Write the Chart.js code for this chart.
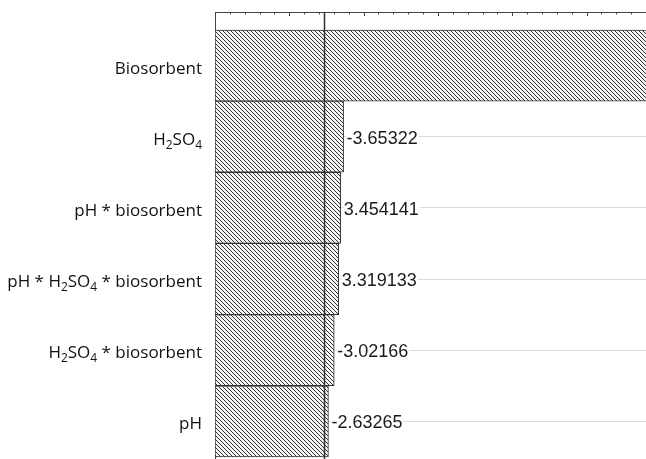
<!DOCTYPE html>
<html>
<head>
<meta charset="utf-8">
<script src="https://cdn.jsdelivr.net/npm/chart.js@4"></script>
<style>
  html, body { margin: 0; padding: 0; background: #fff; overflow: hidden; }
  canvas { display: block; }
</style>
</head>
<body>
<canvas id="paretoChart" width="646" height="459"></canvas>
<script>
// factors, in the order shown (top to bottom); _n marks a subscript
const factors = ['Biosorbent', 'H_2SO_4', 'pH * biosorbent', 'pH * H_2SO_4 * biosorbent', 'H_2SO_4 * biosorbent', 'pH'];
// standardized effects (Biosorbent runs off the picture, value estimated)
const effects = [26.5, -3.65322, 3.454141, 3.319133, -3.02166, -2.63265];
const criticalValue = 2.365;
const axisMin = -5;
const axisMax = 24;
const tickStep = 1;
const majorStep = 5;

const labelFont = '17px "Open Sans", "Liberation Sans", sans-serif';
const subFont = '12px "Open Sans", "Liberation Sans", sans-serif';

// diagonal hatch pattern
function hatch() {
    const s = 4;
    const c = document.createElement('canvas');
    c.width = s; c.height = s;
    const g = c.getContext('2d');
    g.fillStyle = '#f4f4f4';
    g.fillRect(0, 0, s, s);
    g.strokeStyle = '#333';
    g.lineWidth = 1;
    g.beginPath();
    g.moveTo(-1, -1); g.lineTo(s + 1, s + 1);
    g.moveTo(-1, s - 1); g.lineTo(1, s + 1);
    g.moveTo(s - 1, -1); g.lineTo(s + 1, 1);
    g.stroke();
    return g.createPattern(c, 'repeat');
}

// split "H_2SO_4" into normal / subscript pieces
function pieces(label) {
    const out = [];
    const re = /_(\d)/g;
    let last = 0, m;
    while ((m = re.exec(label)) !== null) {
        if (m.index > last) out.push({ t: label.slice(last, m.index), sub: false });
        out.push({ t: m[1], sub: true });
        last = re.lastIndex;
    }
    if (last < label.length) out.push({ t: label.slice(last), sub: false });
    return out;
}

const extras = {
    id: 'extras',
    afterDraw(chart) {
        const ctx = chart.ctx;
        const ys = chart.scales.y;
        ctx.save();
        ctx.fillStyle = '#111';
        ctx.textBaseline = 'alphabetic';
        ctx.textAlign = 'left';
        const right = ys.right - 13;
        factors.forEach((f, i) => {
            const parts = pieces(f);
            let w = 0;
            parts.forEach(p => { ctx.font = p.sub ? subFont : labelFont; p.w = ctx.measureText(p.t).width; w += p.w; });
            let x = right - w;
            const base = ys.getPixelForValue(i) + 8;
            parts.forEach(p => {
                ctx.font = p.sub ? subFont : labelFont;
                ctx.fillText(p.t, x, p.sub ? base + 4 : base);
                x += p.w;
            });
        });
        ctx.restore();
    },
    afterDatasetsDraw(chart) {
        const ctx = chart.ctx;
        const xs = chart.scales.x, ys = chart.scales.y;
        const area = chart.chartArea;
        ctx.save();
        // top axis ticks pointing inward
        ctx.strokeStyle = '#444';
        ctx.lineWidth = 1;
        for (let v = axisMin; v <= axisMax; v += tickStep) {
            const x = Math.round(xs.getPixelForValue(v)) + 0.5;
            const len = (v % majorStep === 0) ? 4 : 2.5;
            ctx.beginPath();
            ctx.moveTo(x, area.top);
            ctx.lineTo(x, area.top + len);
            ctx.stroke();
        }
        // critical value line
        const cx = Math.round(xs.getPixelForValue(criticalValue)) + 0.5;
        ctx.strokeStyle = '#333';
        ctx.lineWidth = 1.5;
        ctx.beginPath();
        ctx.moveTo(cx, area.top);
        ctx.lineTo(cx, area.bottom);
        ctx.stroke();
        // value labels
        ctx.font = '18px "Liberation Sans", Arial, sans-serif';
        ctx.textBaseline = 'middle';
        ctx.textAlign = 'left';
        effects.forEach((v, i) => {
            const txt = String(v);
            const x = xs.getPixelForValue(Math.abs(v)) + 3;
            const y = ys.getPixelForValue(i) + 2;
            const w = ctx.measureText(txt).width;
            ctx.fillStyle = '#fff';
            ctx.fillRect(x, y - 10, w + 1, 20);
            ctx.fillStyle = '#1a1a1a';
            ctx.fillText(txt, x, y);
        });
        ctx.restore();
    }
};

const ctx = document.getElementById('paretoChart').getContext('2d');
new Chart(ctx, {
    type: 'bar',
    data: {
        datasets: [{
            data: effects.map((v, i) => ({ x: Math.abs(v), y: i })),
            base: axisMin,
            backgroundColor: hatch(),
            borderColor: '#333',
            borderWidth: 1,
            borderSkipped: false,
            barPercentage: 1,
            categoryPercentage: 1,
        }]
    },
    options: {
        indexAxis: 'y',
        responsive: false,
        devicePixelRatio: 1,
        animation: false,
        layout: { padding: 0 },
        plugins: { legend: { display: false }, tooltip: { enabled: false } },
        scales: {
            x: {
                type: 'linear',
                position: 'top',
                min: axisMin,
                max: axisMax,
                ticks: { display: false },
                grid: { display: false },
                border: { display: true, color: '#444', width: 1 },
                afterFit(s) { s.height = 12; s.paddingLeft = 0; s.paddingRight = 0; }
            },
            y: {
                type: 'linear',
                reverse: true,
                offset: false,
                min: -0.753,
                max: 5.53,
                afterBuildTicks(s) { s.ticks = factors.map((f, i) => ({ value: i })); },
                ticks: { display: false },
                grid: { color: '#dcdcdc', drawTicks: false, offset: false },
                border: { display: true, color: '#444', width: 1 },
                afterFit(s) { s.width = 215; s.paddingTop = 0; s.paddingBottom = 0; }
            }
        }
    },
    plugins: [extras]
});
</script>
</body>
</html>
